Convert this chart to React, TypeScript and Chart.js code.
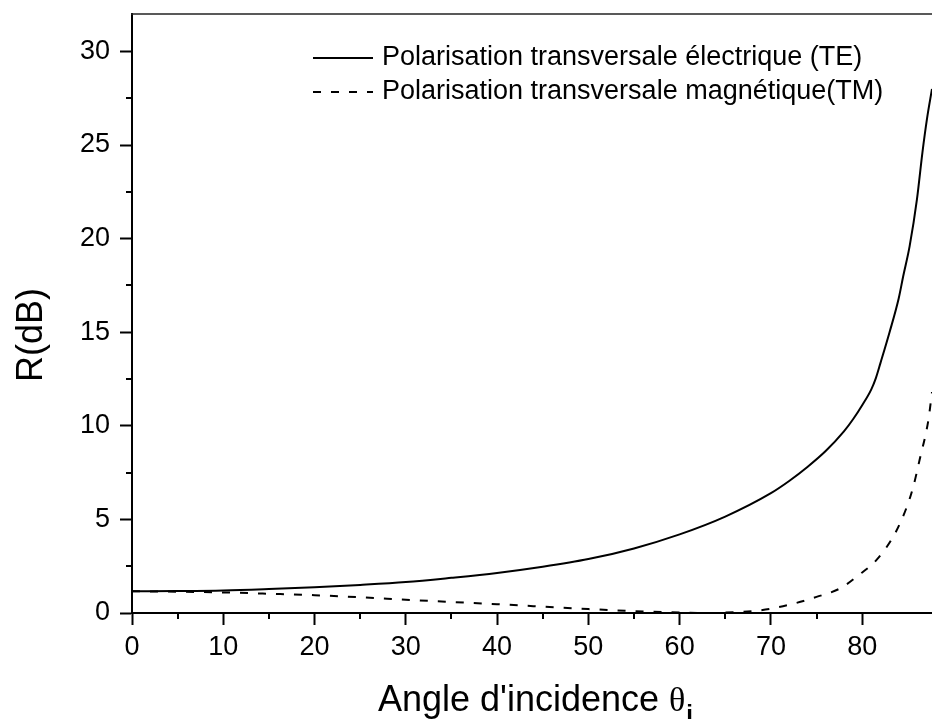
import React, { useEffect, useRef } from 'react';
import { Chart, registerables } from 'chart.js';

Chart.register(...registerables);

// ---- data ----
const teAngles = [0, 5, 10, 15, 20, 25, 30, 35, 40, 45, 50, 55, 60, 65, 70, 72, 74, 76, 78, 79, 80, 81, 81.5, 82, 83, 84, 84.5, 85.2, 86, 86.6, 87.1, 87.65];
const teValues = [1.16, 1.17, 1.2, 1.28, 1.38, 1.5, 1.65, 1.88, 2.14, 2.47, 2.88, 3.45, 4.2, 5.15, 6.4, 7.05, 7.8, 8.65, 9.7, 10.35, 11.1, 11.95, 12.55, 13.35, 15.0, 16.8, 18.0, 19.6, 22.1, 24.6, 26.4, 28.0];

const tmAngles = [0, 5, 10, 15, 20, 25, 30, 35, 40, 45, 50, 55, 60, 63, 66, 68, 70, 72.5, 75, 77.6, 79.6, 81.6, 83.6, 84.9, 85.6, 86.3, 87.25, 87.65];
const tmValues = [1.16, 1.14, 1.1, 1.03, 0.95, 0.84, 0.71, 0.59, 0.47, 0.34, 0.21, 0.1, 0.03, 0.0, 0.04, 0.1, 0.23, 0.5, 0.86, 1.32, 2.02, 2.85, 4.25, 5.68, 6.75, 8.2, 10.3, 11.8];

const seriesLabels = ['Polarisation transversale électrique (TE)', 'Polarisation transversale magnétique(TM)'];
const xTickLabels = ['0', '10', '20', '30', '40', '50', '60', '70', '80'];
const yTickLabels = ['0', '5', '10', '15', '20', '25', '30'];
const xTitleMain = "Angle d'incidence ";
const xTitleSymbol = 'θ';
const xTitleSub = 'i';
const yTitle = 'R(dB)';

const FONT = '"Liberation Sans", Arial, Helvetica, sans-serif';
const SERIF = '"Liberation Serif", "DejaVu Serif", serif';

const isMult = (v: number, step: number) => Math.abs(v / step - Math.round(v / step)) < 1e-6;

const decorPlugin = {
  id: 'decor',
  afterDraw(chart: any) {
    const ctx = chart.ctx as CanvasRenderingContext2D;
    const area = chart.chartArea;
    const xs = chart.scales.x;
    const ys = chart.scales.y;
    ctx.save();
    // top frame line
    ctx.strokeStyle = '#222';
    ctx.lineWidth = 1.5;
    ctx.beginPath();
    ctx.moveTo(area.left - 1, area.top);
    ctx.lineTo(area.right, area.top);
    ctx.stroke();

    // minor ticks
    ctx.strokeStyle = '#000';
    ctx.lineWidth = 2;
    xs.ticks.forEach((t: any) => {
      if (!isMult(t.value, 10)) {
        const px = Math.round(xs.getPixelForValue(t.value));
        ctx.beginPath();
        ctx.moveTo(px, area.bottom);
        ctx.lineTo(px, area.bottom + 6);
        ctx.stroke();
      }
    });
    ys.ticks.forEach((t: any) => {
      if (!isMult(t.value, 5)) {
        const py = Math.round(ys.getPixelForValue(t.value));
        ctx.beginPath();
        ctx.moveTo(area.left, py);
        ctx.lineTo(area.left - 6, py);
        ctx.stroke();
      }
    });

    // legend
    const rowsY = [58, 92];
    chart.data.datasets.forEach((ds: any, i: number) => {
      const y = rowsY[i];
      ctx.strokeStyle = '#000';
      ctx.lineWidth = 2;
      ctx.setLineDash(ds.borderDash || []);
      ctx.beginPath();
      ctx.moveTo(313, y);
      ctx.lineTo(373, y);
      ctx.stroke();
      ctx.setLineDash([]);
      ctx.fillStyle = '#000';
      ctx.font = `27px ${FONT}`;
      ctx.textAlign = 'left';
      ctx.textBaseline = 'middle';
      ctx.fillText(ds.label, 382, y);
    });

    // x title
    ctx.fillStyle = '#000';
    ctx.textBaseline = 'alphabetic';
    ctx.textAlign = 'left';
    ctx.font = `36px ${FONT}`;
    let x = 378;
    ctx.fillText(xTitleMain, x, 711);
    x += ctx.measureText(xTitleMain).width;
    ctx.font = `34px ${SERIF}`;
    ctx.fillText(xTitleSymbol, x, 711);
    x += ctx.measureText(xTitleSymbol).width + 1;
    ctx.font = `bold 24px ${FONT}`;
    ctx.fillText(xTitleSub, x, 722);

    // y title
    ctx.save();
    ctx.translate(42, 335);
    ctx.rotate(-Math.PI / 2);
    ctx.font = `36px ${FONT}`;
    ctx.textAlign = 'center';
    ctx.textBaseline = 'alphabetic';
    ctx.fillText(yTitle, 0, 0);
    ctx.restore();

    ctx.restore();
  },
};

export default function App() {
  const ref = useRef<HTMLCanvasElement | null>(null);

  useEffect(() => {
    if (!ref.current) return;
    const chart = new Chart(ref.current, {
      type: 'line',
      data: {
        datasets: [
          {
            label: seriesLabels[0],
            data: teAngles.map((a, i) => ({ x: a, y: teValues[i] })),
            borderColor: '#000',
            borderWidth: 2,
            pointRadius: 0,
            fill: false,
            cubicInterpolationMode: 'monotone',
          },
          {
            label: seriesLabels[1],
            data: tmAngles.map((a, i) => ({ x: a, y: tmValues[i] })),
            borderColor: '#000',
            borderWidth: 2,
            borderDash: [8, 10],
            pointRadius: 0,
            fill: false,
            cubicInterpolationMode: 'monotone',
          },
        ],
      },
      options: {
        animation: false,
        responsive: false,
        maintainAspectRatio: false,
        layout: { padding: { left: 0, right: 0, top: 14, bottom: 0 } },
        plugins: { legend: { display: false }, tooltip: { enabled: false }, title: { display: false } },
        scales: {
          x: {
            type: 'linear',
            min: 0,
            max: 87.65,
            afterBuildTicks: (s: any) => {
              s.ticks = s.ticks.filter((t: any) => isMult(t.value, 5));
            },
            afterFit: (s: any) => {
              s.height = 106;
              s.paddingLeft = 0;
              s.paddingRight = 0;
            },
            ticks: {
              stepSize: 5,
              autoSkip: false,
              maxRotation: 0,
              padding: 6,
              color: '#000',
              font: { size: 27, family: FONT },
              callback: (v: any) => (xTickLabels.includes(String(v)) ? String(v) : ''),
            },
            grid: {
              drawOnChartArea: false,
              tickLength: 12,
              tickWidth: 2,
              tickColor: (c: any) => (c.tick && isMult(c.tick.value, 10) ? '#000' : 'rgba(0,0,0,0)'),
            },
            border: { display: true, color: '#000', width: 2 },
          },
          y: {
            type: 'linear',
            min: 0,
            max: 32,
            afterBuildTicks: (s: any) => {
              s.ticks = s.ticks.filter((t: any) => isMult(t.value, 2.5));
            },
            afterFit: (s: any) => {
              s.width = 132;
              s.paddingTop = 0;
              s.paddingBottom = 0;
            },
            ticks: {
              stepSize: 2.5,
              autoSkip: false,
              padding: 10,
              color: '#000',
              font: { size: 27, family: FONT },
              callback: (v: any) => (yTickLabels.includes(String(v)) ? String(v) : ''),
            },
            grid: {
              drawOnChartArea: false,
              tickLength: 12,
              tickWidth: 2,
              tickColor: (c: any) => (c.tick && isMult(c.tick.value, 5) ? '#000' : 'rgba(0,0,0,0)'),
            },
            border: { display: true, color: '#000', width: 2 },
          },
        },
      },
      plugins: [decorPlugin],
    } as any);
    return () => chart.destroy();
  }, []);

  return (
    <div style={{ position: 'fixed', left: 0, top: 0, width: 932, height: 719, background: '#fff' }}>
      <canvas ref={ref} width={932} height={719} style={{ display: 'block', width: 932, height: 719 }} />
    </div>
  );
}
